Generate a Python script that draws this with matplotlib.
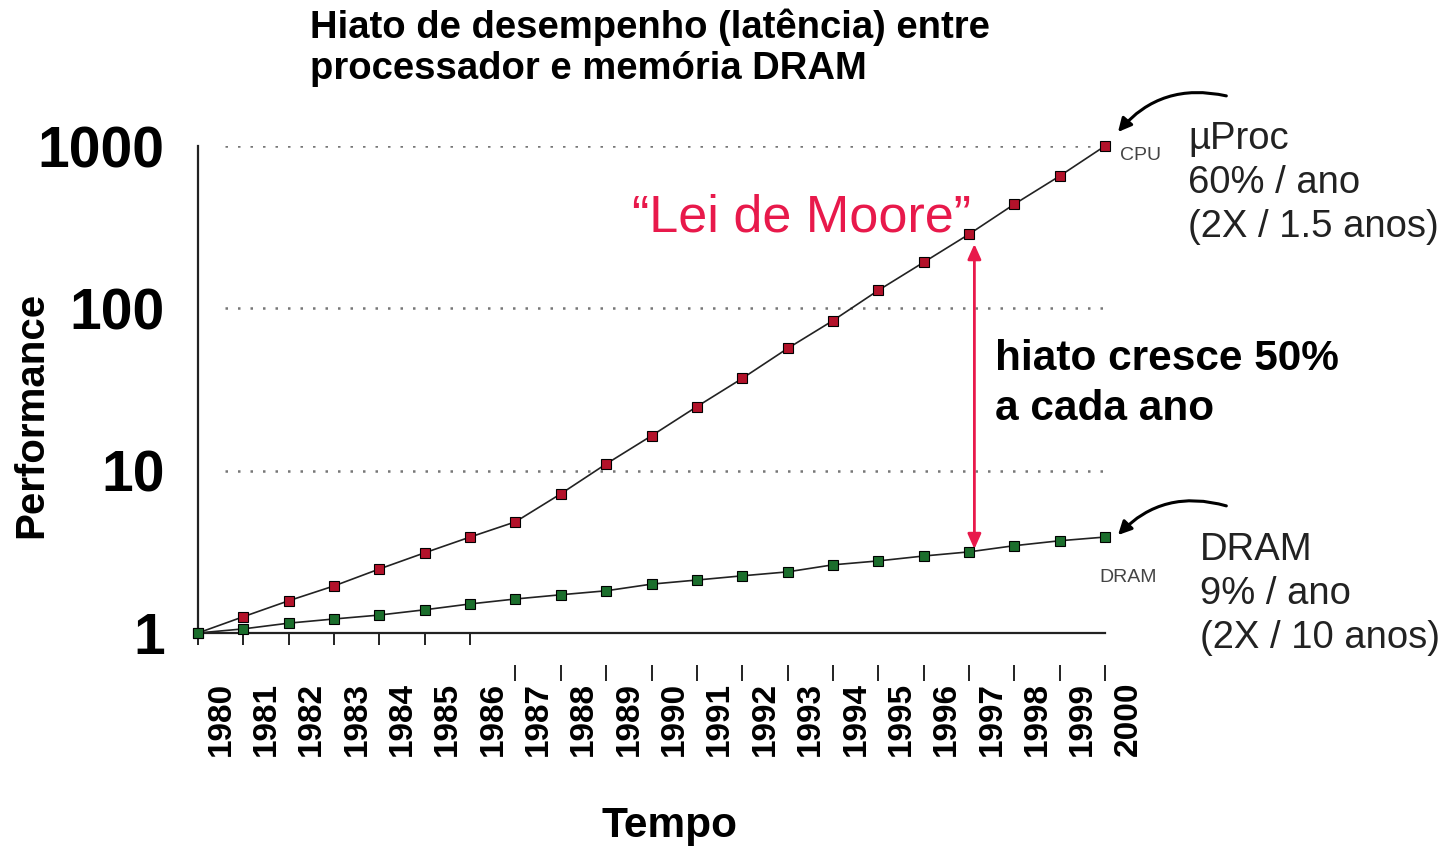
import matplotlib
matplotlib.use("Agg")
import matplotlib.pyplot as plt
import matplotlib.transforms as mtransforms

plt.rcParams['font.family'] = ['Liberation Sans', 'DejaVu Sans']

# dados (escala log)
anos = list(range(1980, 2001))
cpu = [1.0, 1.26, 1.58, 1.95, 2.48, 3.12, 3.9, 4.84, 7.2, 11.0, 16.4, 24.8,
       37.0, 56.6, 84.0, 129, 192, 286, 438, 653, 1000]
dram = [1.0, 1.06, 1.15, 1.22, 1.29, 1.39, 1.51, 1.62, 1.72, 1.82, 2.0, 2.12,
        2.25, 2.38, 2.63, 2.78, 2.98, 3.16, 3.45, 3.7, 3.9]
y_ticks = [1, 10, 100, 1000]
y_labels = ['1', '10', '100', '1000']
ano_hiato = 1997

vermelho = '#e8194b'

fig = plt.figure(figsize=(14.49, 8.49), dpi=100)
ax = fig.add_axes([198/1449, 216/849, 907/1449, 487/849])

ax.set_yscale('log')
ax.set_xlim(1980, 2000)
ax.set_ylim(1, 1000)

# linhas pontilhadas de referência
for v in y_ticks[1:]:
    ax.axhline(v, xmin=0.03, xmax=1, color='#777777', lw=1.8, ls=(0, (1, 4)), zorder=1)

ax.plot(anos, cpu, color='#222222', lw=1.2, marker='s', ms=6.5,
        mfc='#b3122a', mec='black', mew=0.8, clip_on=False, zorder=3)
ax.plot(anos, dram, color='#222222', lw=1.2, marker='s', ms=6.5,
        mfc='#1b6e2c', mec='black', mew=0.8, clip_on=False, zorder=3)

for s in ['top', 'right']:
    ax.spines[s].set_visible(False)
ax.spines['left'].set_linewidth(1.6)
ax.spines['bottom'].set_linewidth(1.6)
ax.spines['left'].set_color('#222222')
ax.spines['bottom'].set_color('#222222')

ax.set_yticks(y_ticks)
ax.set_yticklabels(y_labels, fontsize=41, fontweight='bold')
ax.yaxis.set_minor_locator(matplotlib.ticker.NullLocator())
ax.tick_params(axis='y', length=0, pad=24)

ax.set_xticks(anos)
ax.set_xticklabels([str(a) for a in anos], rotation=90, fontsize=24, fontweight='bold')
ax.tick_params(axis='x', length=0, pad=35)
desloc = mtransforms.ScaledTranslation(0.23, 0, fig.dpi_scale_trans)
for lbl in ax.get_xticklabels():
    lbl.set_transform(lbl.get_transform() + desloc)

# marcas do eixo x (duas alturas diferentes, como no original)
trans = mtransforms.blended_transform_factory(ax.transData, ax.transAxes)
ax.vlines([a for a in anos if a <= 1986], -0.025, 0, transform=trans,
          color='#222222', lw=1.4, clip_on=False)
ax.vlines([a for a in anos if a > 1986], -0.099, -0.066, transform=trans,
          color='#222222', lw=1.4, clip_on=False)

# rótulos pequenos CPU / DRAM
ax.annotate('CPU', xy=(anos[-1], cpu[-1]), xytext=(11, -7), textcoords='offset points',
            fontsize=14, color='#444444', ha='left', va='center')
ax.annotate('DRAM', xy=(anos[-1], dram[-1]), xytext=(-4, -29), textcoords='offset points',
            fontsize=14, color='#444444', ha='left', va='center')

# setas curvas
off_cpu = mtransforms.offset_copy(ax.transData, fig=fig, x=13, y=14, units='dots')
ax.annotate('', xy=(anos[-1], cpu[-1]), xycoords=off_cpu,
            xytext=(78, 26), textcoords='offset points',
            arrowprops=dict(arrowstyle='-|>,head_length=0.8,head_width=0.4', lw=2.2,
                            color='black', connectionstyle='arc3,rad=0.3',
                            shrinkA=0, shrinkB=0))
off_dram = mtransforms.offset_copy(ax.transData, fig=fig, x=13, y=2, units='dots')
ax.annotate('', xy=(anos[-1], dram[-1]), xycoords=off_dram,
            xytext=(78, 21), textcoords='offset points',
            arrowprops=dict(arrowstyle='-|>,head_length=0.8,head_width=0.4', lw=2.2,
                            color='black', connectionstyle='arc3,rad=0.3',
                            shrinkA=0, shrinkB=0))

# seta vermelha do hiato
i = anos.index(ano_hiato)
ax.annotate('', xy=(ano_hiato + 0.12, dram[i]), xytext=(ano_hiato + 0.12, cpu[i]),
            arrowprops=dict(arrowstyle='<|-|>,head_length=0.9,head_width=0.4', lw=2,
                            color=vermelho, shrinkA=7, shrinkB=2))

fig.text(632/1449, 1 - 218/849, '\u201cLei de Moore\u201d', fontsize=37.5,
         color=vermelho, ha='left', va='center')
fig.text(995/1449, 1 - 384/849, 'hiato cresce 50%\na cada ano', fontsize=30.5,
         fontweight='bold', ha='left', va='center', linespacing=1.3)

fig.text(1188/1449, 1 - 183/849, '\u00b5Proc\n60% / ano\n(2X / 1.5 anos)', fontsize=27.5,
         ha='left', va='center', linespacing=1.3, color='#222222')
fig.text(1200/1449, 1 - 594/849, 'DRAM\n9% / ano\n(2X / 10 anos)', fontsize=27.5,
         ha='left', va='center', linespacing=1.3, color='#222222')

fig.text(310/1449, 1 - 8/849, 'Hiato de desempenho (latência) entre\nprocessador e memória DRAM',
         fontsize=27.5, fontweight='bold', ha='left', va='top', linespacing=1.2)
fig.text(31/1449, 1 - 415/849, 'Performance', fontsize=29, fontweight='bold',
         rotation=90, ha='center', va='center')
fig.text(670/1449, 1 - 826/849, 'Tempo', fontsize=30.5, fontweight='bold',
         ha='center', va='center')

fig.savefig('out.png', dpi=100)
